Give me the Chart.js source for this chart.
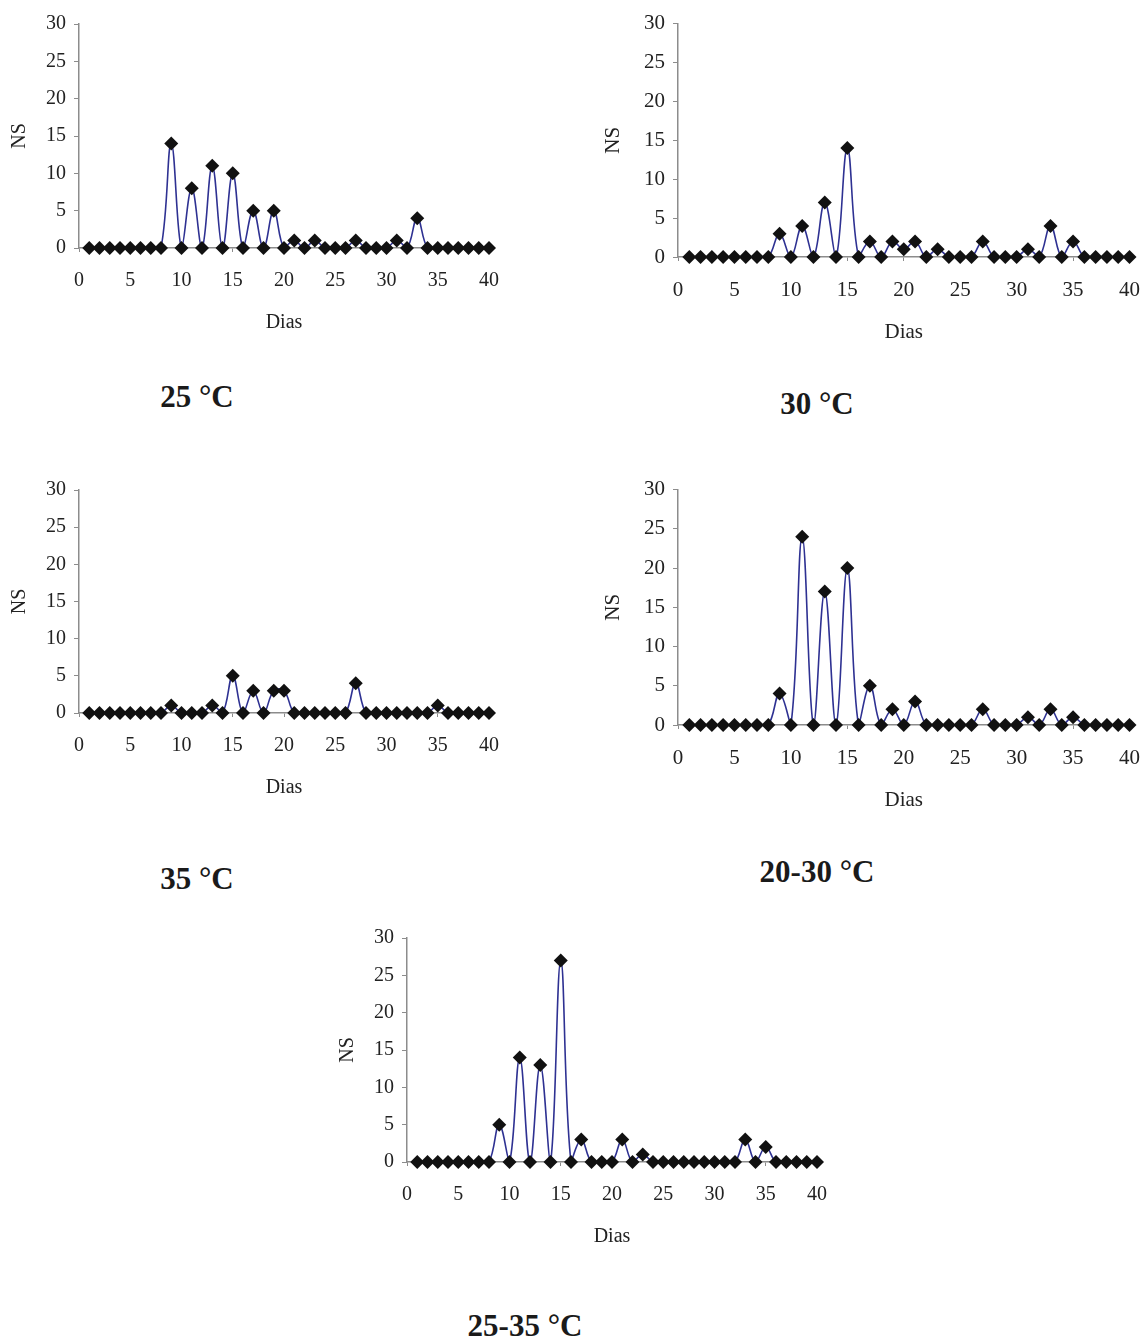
<!DOCTYPE html>
<html>
<head>
<meta charset="utf-8">
<script src="https://cdn.jsdelivr.net/npm/chart.js@4"></script>
<style>
  body { margin: 0; background: #fff; }
  #page { position: relative; width: 1144px; height: 1342px; }
  canvas { position: absolute; }
  .title {
    position: absolute;
    transform: translate(-50%, -50%);
    font-family: "Liberation Serif", serif;
    font-weight: bold;
    font-size: 31px;
    color: #1a1a1a;
    white-space: nowrap;
  }
</style>
</head>
<body>
<div id="page">
  <canvas id="c25"></canvas>
  <canvas id="c30"></canvas>
  <canvas id="c35"></canvas>
  <canvas id="c2030"></canvas>
  <canvas id="c2535"></canvas>
  <div class="title" style="left:197px; top:397px">25 °C</div>
  <div class="title" style="left:817px; top:404px">30 °C</div>
  <div class="title" style="left:197px; top:879px">35 °C</div>
  <div class="title" style="left:817px; top:872px">20-30 °C</div>
  <div class="title" style="left:525px; top:1326px">25-35 °C</div>
</div>
<script>
// days 1..40
const days = [1, 2, 3, 4, 5, 6, 7, 8, 9, 10, 11, 12, 13, 14, 15, 16, 17, 18, 19, 20,
              21, 22, 23, 24, 25, 26, 27, 28, 29, 30, 31, 32, 33, 34, 35, 36, 37, 38, 39, 40];

// NS per day
const ns25   = [0, 0, 0, 0, 0, 0, 0, 0, 14, 0, 8, 0, 11, 0, 10, 0, 5, 0, 5, 0,
                1, 0, 1, 0, 0, 0, 1, 0, 0, 0, 1, 0, 4, 0, 0, 0, 0, 0, 0, 0];
const ns30   = [0, 0, 0, 0, 0, 0, 0, 0, 3, 0, 4, 0, 7, 0, 14, 0, 2, 0, 2, 1,
                2, 0, 1, 0, 0, 0, 2, 0, 0, 0, 1, 0, 4, 0, 2, 0, 0, 0, 0, 0];
const ns35   = [0, 0, 0, 0, 0, 0, 0, 0, 1, 0, 0, 0, 1, 0, 5, 0, 3, 0, 3, 3,
                0, 0, 0, 0, 0, 0, 4, 0, 0, 0, 0, 0, 0, 0, 1, 0, 0, 0, 0, 0];
const ns2030 = [0, 0, 0, 0, 0, 0, 0, 0, 4, 0, 24, 0, 17, 0, 20, 0, 5, 0, 2, 0,
                3, 0, 0, 0, 0, 0, 2, 0, 0, 0, 1, 0, 2, 0, 1, 0, 0, 0, 0, 0];
const ns2535 = [0, 0, 0, 0, 0, 0, 0, 0, 5, 0, 14, 0, 13, 0, 27, 0, 3, 0, 0, 0,
                3, 0, 1, 0, 0, 0, 0, 0, 0, 0, 0, 0, 3, 0, 2, 0, 0, 0, 0, 0];

const xTicks = [0, 5, 10, 15, 20, 25, 30, 35, 40];
const yTicks = [0, 5, 10, 15, 20, 25, 30];

const LEFT = 80, TOP = 14, RIGHT = 16, BOTTOM = 90;
const serif = '"Liberation Serif", "Times New Roman", serif';

function makeChart(id, values, plot, nsGap, fs) {
  const cv = document.getElementById(id);
  const pw = plot.right - plot.left, ph = plot.bottom - plot.top;
  const w = pw + LEFT + RIGHT;
  const h = ph + TOP + BOTTOM;
  cv.width = w;
  cv.height = h;
  cv.style.width = w + 'px';
  cv.style.height = h + 'px';
  const lh = fs * 1.2;

  const chart = new Chart(cv.getContext('2d'), {
    type: 'line',
    data: {
      datasets: [{
        data: days.map((d, i) => ({ x: d, y: values[i] })),
        borderColor: '#2e3192',
        borderWidth: 1.6,
        tension: 0.4,
        clip: false,
        pointStyle: 'rectRot',
        pointRadius: 7,
        pointBackgroundColor: '#111',
        pointBorderColor: '#111',
        pointBorderWidth: 0,
        fill: false
      }]
    },
    options: {
      responsive: false,
      maintainAspectRatio: false,
      animation: false,
      events: [],
      layout: { padding: { top: TOP, right: RIGHT, left: 0, bottom: 0 } },
      plugins: { legend: { display: false }, tooltip: { enabled: false } },
      scales: {
        x: {
          type: 'linear',
          min: 0,
          max: 40,
          afterFit: s => { s.height = BOTTOM; },
          afterBuildTicks: s => { s.ticks = xTicks.map(v => ({ value: v })); },
          border: { color: '#8c8c8c', width: 1.5 },
          grid: { drawOnChartArea: false, drawTicks: true, tickLength: 4, color: '#8c8c8c' },
          ticks: { color: '#222', padding: 17, maxRotation: 0, font: { family: serif, size: fs } },
          title: { display: true, text: 'Dias', color: '#222',
                   padding: { top: 0, bottom: Math.max(0, BOTTOM - 75 - lh / 2) },
                   font: { family: serif, size: fs } }
        },
        y: {
          min: 0,
          max: 30,
          afterFit: s => { s.width = LEFT; },
          afterBuildTicks: s => { s.ticks = yTicks.map(v => ({ value: v })); },
          border: { color: '#8c8c8c', width: 1.5 },
          grid: { drawOnChartArea: false, drawTicks: true, tickLength: 5, color: '#8c8c8c' },
          ticks: { color: '#222', padding: 8, font: { family: serif, size: fs } },
          title: { display: true, text: 'NS', color: '#222',
                   padding: { top: Math.max(0, LEFT - nsGap - lh / 2), bottom: 0 },
                   font: { family: serif, size: fs } }
        }
      }
    }
  });

  // make the plot area land on the reference box (whole pixels only)
  const a = chart.chartArea;
  chart.resize(Math.round(w + pw - (a.right - a.left)), Math.round(h + ph - (a.bottom - a.top)));
  const b = chart.chartArea;
  cv.style.left = Math.round(plot.left - b.left) + 'px';
  cv.style.top = Math.round(plot.top - b.top) + 'px';
  return chart;
}

makeChart('c25',   ns25,   { left: 79,  right: 489,  top: 24,  bottom: 248 },  59, 20);
makeChart('c30',   ns30,   { left: 678, right: 1129, top: 24,  bottom: 257 },  65, 21);
makeChart('c35',   ns35,   { left: 79,  right: 489,  top: 490, bottom: 713 },  59, 20);
makeChart('c2030', ns2030, { left: 678, right: 1129, top: 490, bottom: 725 },  65, 21);
makeChart('c2535', ns2535, { left: 407, right: 817,  top: 938, bottom: 1162 }, 59, 20);
</script>
</body>
</html>
